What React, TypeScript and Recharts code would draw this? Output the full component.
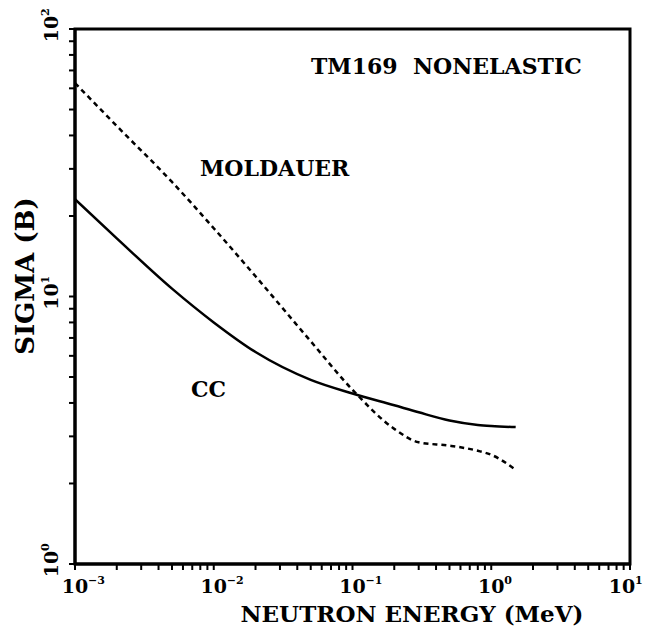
import { LineChart, Line, XAxis, YAxis, ReferenceArea } from "recharts";

// neutron energy (MeV) and nonelastic cross sections (barns)
const energy = [0.001, 0.002, 0.005, 0.01, 0.02, 0.05, 0.1, 0.2, 0.3, 0.5, 0.8, 1.0, 1.5];
const ccSigma = [23.1, 16.5, 10.7, 8.0, 6.2, 4.88, 4.34, 3.92, 3.69, 3.44, 3.31, 3.28, 3.25];
const moldauerSigma = [62.8, 43.4, 26.8, 18.0, 11.9, 6.8, 4.48, 3.2, 2.85, 2.77, 2.65, 2.56, 2.25];

const xDecades = [-3, -2, -1, 0, 1];
const yDecades = [0, 1, 2];
const minorSteps = [2, 3, 4, 5, 6, 7, 8, 9];

const buildTicks = (decades: number[]) => {
  const out: number[] = [];
  decades.forEach((d, i) => {
    out.push(Math.pow(10, d));
    if (i < decades.length - 1) minorSteps.forEach((m) => out.push(m * Math.pow(10, d)));
  });
  return out;
};
const xTicks = buildTicks(xDecades);
const yTicks = buildTicks(yDecades);

const data = energy.map((e, i) => ({ e, cc: ccSigma[i], mold: moldauerSigma[i] }));

const FONT = "'DejaVu Serif', serif";

const decadeOf = (v: number) => {
  const d = Math.round(Math.log10(v));
  return Math.abs(v - Math.pow(10, d)) < 1e-9 * Math.pow(10, d) ? d : null;
};

const XTick = (props: any) => {
  const { x, y, payload } = props;
  const d = decadeOf(payload.value);
  // keep the last label inside the page
  const shift = Math.min(0, 642 - (x + 20));
  return (
    <g transform={`translate(${x},${y})`}>
      <line x1={0} y1={0} x2={0} y2={6} stroke="#000" strokeWidth={2} />
      {d !== null && (
        <g transform={`translate(${shift},0)`}>
          <text x={0} y={29} textAnchor="middle" fontFamily={FONT} fontWeight="bold" fontSize={19} fill="#000">
            10
          </text>
          <text x={13} y={20} fontFamily={FONT} fontWeight="bold" fontSize={11} fill="#000">
            {d < 0 ? `−${-d}` : d}
          </text>
        </g>
      )}
    </g>
  );
};

const YTick = (props: any) => {
  const { x, y, payload } = props;
  const d = decadeOf(payload.value);
  return (
    <g transform={`translate(${x},${y})`}>
      <line x1={0} y1={0} x2={-6} y2={0} stroke="#000" strokeWidth={2} />
      {d !== null && (
        <g transform="translate(-17,0) rotate(-90)">
          <text x={0} y={0} textAnchor="middle" fontFamily={FONT} fontWeight="bold" fontSize={19} fill="#000">
            10
          </text>
          <text x={13} y={-9} fontFamily={FONT} fontWeight="bold" fontSize={11} fill="#000">
            {d}
          </text>
        </g>
      )}
    </g>
  );
};

export default function App() {
  return (
    <div style={{ position: "absolute", left: 0, top: 0, width: 646, height: 630, background: "#fff" }}>
      <LineChart
        width={646}
        height={630}
        data={data}
        margin={{ top: 29, right: 16, left: 74, bottom: 65 }}
      >
        <XAxis
          dataKey="e"
          type="number"
          scale="log"
          domain={[0.001, 10]}
          ticks={xTicks}
          interval={0}
          height={1}
          tickSize={0}
          tickMargin={0}
          tickLine={false}
          tick={<XTick />}
          axisLine={{ stroke: "#000", strokeWidth: 3 }}
          allowDataOverflow
        />
        <YAxis
          type="number"
          scale="log"
          domain={[1, 100]}
          ticks={yTicks}
          interval={0}
          width={1}
          tickSize={0}
          tickMargin={0}
          tickLine={false}
          tick={<YTick />}
          axisLine={{ stroke: "#000", strokeWidth: 3 }}
          allowDataOverflow
        />
        <ReferenceArea x1={0.001} x2={10} y1={1} y2={100} fill="none" stroke="#000" strokeWidth={3} />
        <Line
          dataKey="cc"
          type="monotone"
          stroke="#000"
          strokeWidth={2.5}
          dot={false}
          isAnimationActive={false}
        />
        <Line
          dataKey="mold"
          type="monotone"
          stroke="#000"
          strokeWidth={2.5}
          strokeDasharray="5 4"
          dot={false}
          isAnimationActive={false}
        />
        <text x={311} y={74} fontFamily={FONT} fontWeight="bold" fontSize={22} fill="#000" style={{ whiteSpace: "pre" }}>
          TM169  NONELASTIC
        </text>
        <text x={200} y={176} fontFamily={FONT} fontWeight="bold" fontSize={22} fill="#000">
          MOLDAUER
        </text>
        <text x={191} y={397} fontFamily={FONT} fontWeight="bold" fontSize={22} fill="#000">
          CC
        </text>
        <text x={412} y={622} textAnchor="middle" fontFamily={FONT} fontWeight="bold" fontSize={23} fill="#000">
          NEUTRON ENERGY (MeV)
        </text>
        <text
          transform="translate(34,276) rotate(-90)"
          textAnchor="middle"
          fontFamily={FONT}
          fontWeight="bold"
          fontSize={26}
          fill="#000"
        >
          SIGMA (B)
        </text>
      </LineChart>
    </div>
  );
}
